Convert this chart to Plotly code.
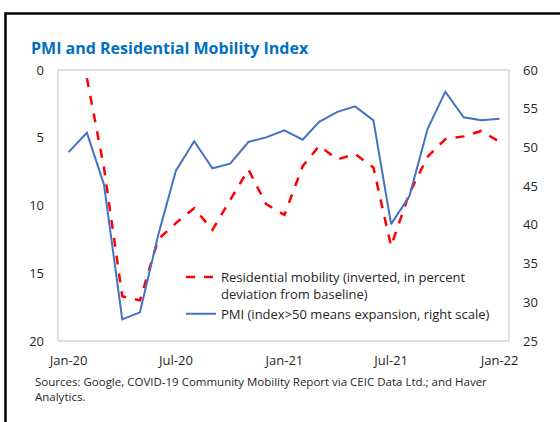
import plotly.graph_objects as go

months = ["2020-01-01","2020-02-01","2020-03-01","2020-04-01","2020-05-01","2020-06-01",
          "2020-07-01","2020-08-01","2020-09-01","2020-10-01","2020-11-01","2020-12-01",
          "2021-01-01","2021-02-01","2021-03-01","2021-04-01","2021-05-01","2021-06-01",
          "2021-07-01","2021-08-01","2021-09-01","2021-10-01","2021-11-01","2021-12-01",
          "2022-01-01"]

pmi = [49.4, 51.9, 45.2, 27.8, 28.7, 38.7, 47.0, 50.8, 47.3, 47.9, 50.7, 51.3,
       52.2, 51.0, 53.3, 54.6, 55.3, 53.5, 40.1, 43.7, 52.4, 57.2, 53.9, 53.5, 53.7]

mobility_months = months[1:]
mobility = [0.6, 7.2, 16.7, 17.0, 12.5, 11.3, 10.2, 11.8, 9.6, 7.35, 9.9,
            10.7, 7.1, 5.6, 6.6, 6.2, 7.2, 13.0, 9.1, 6.4, 5.1, 4.9, 4.5, 5.3]

tick_vals = ["2020-01-01", "2020-07-01", "2021-01-01", "2021-07-01", "2022-01-01"]
tick_text = ["Jan-20", "Jul-20", "Jan-21", "Jul-21", "Jan-22"]

left_ticks = [0, 5, 10, 15, 20]
right_ticks = [25, 30, 35, 40, 45, 50, 55, 60]

FONT = "Open Sans"
TXT = "#262626"

fig = go.Figure()
fig.add_trace(go.Scatter(
    x=mobility_months, y=mobility, mode="lines",
    name="Residential mobility (inverted, in percent<br>deviation from baseline)",
    line=dict(color="#FF0000", width=2.5, dash="dash"), yaxis="y"))
fig.add_trace(go.Scatter(
    x=months, y=pmi, mode="lines",
    name="PMI (index>50 means expansion, right scale)",
    line=dict(color="#4472C4", width=2), yaxis="y2"))

L, R, T, B = 58, 51, 70, 81
W, H = 560, 422
pw, ph = W - L - R, H - T - B

def px_x(x):
    return (x - L) / pw

def px_y(y):
    return (H - B - y) / ph

fig.update_layout(
    width=W, height=H,
    margin=dict(l=L, r=R, t=T, b=B),
    paper_bgcolor="white", plot_bgcolor="white",
    font=dict(family=FONT, size=13, color=TXT),
    showlegend=True,
    title=dict(text="<b>PMI and Residential Mobility Index</b>",
               font=dict(family=FONT, size=16, color="#0070C0"),
               xref="container", yref="container",
               x=31 / W, xanchor="left", y=1 - 48 / H, yanchor="middle"),
    xaxis=dict(type="date", range=["2019-12-14", "2022-01-17"],
               tickvals=tick_vals, ticktext=tick_text, showgrid=False,
               zeroline=False, showline=False, ticks="",
               tickfont=dict(size=13, color=TXT), ticklabelstandoff=10),
    yaxis=dict(range=[20, 0], tickvals=left_ticks, showgrid=False,
               zeroline=False, showline=False, ticks="",
               tickfont=dict(size=13, color=TXT), ticklabelstandoff=13),
    yaxis2=dict(range=[25, 60], tickvals=right_ticks, overlaying="y",
                side="right", showgrid=False, zeroline=False, showline=False,
                ticks="", tickfont=dict(size=13, color=TXT), ticklabelstandoff=13),
    legend=dict(x=px_x(181), y=px_y(262), xanchor="left", yanchor="top",
                bgcolor="rgba(0,0,0,0)", font=dict(size=13, color=TXT),
                itemwidth=30, valign="top", tracegroupgap=3),
    shapes=[
        dict(type="rect", xref="paper", yref="paper", x0=0, x1=1, y0=0, y1=1,
             line=dict(color="#BFBFBF", width=1), layer="below"),
        dict(type="path", xref="paper", yref="paper",
             path=f"M {px_x(5.5)},{-1} L {px_x(5.5)},{px_y(13.5)} L 2,{px_y(13.5)}",
             line=dict(color="black", width=2.5)),
    ],
    annotations=[
        dict(text="Sources: Google, COVID-19 Community Mobility Report via CEIC Data Ltd.; and Haver<br>Analytics.",
             xref="paper", yref="paper", x=px_x(33), y=px_y(372),
             xanchor="left", yanchor="top", align="left", showarrow=False,
             font=dict(size=11.5, color=TXT)),
    ],
)

fig.write_html("out.html", config={"displayModeBar": False},
               post_script="document.body.style.margin='0';document.body.style.overflow='hidden';")
